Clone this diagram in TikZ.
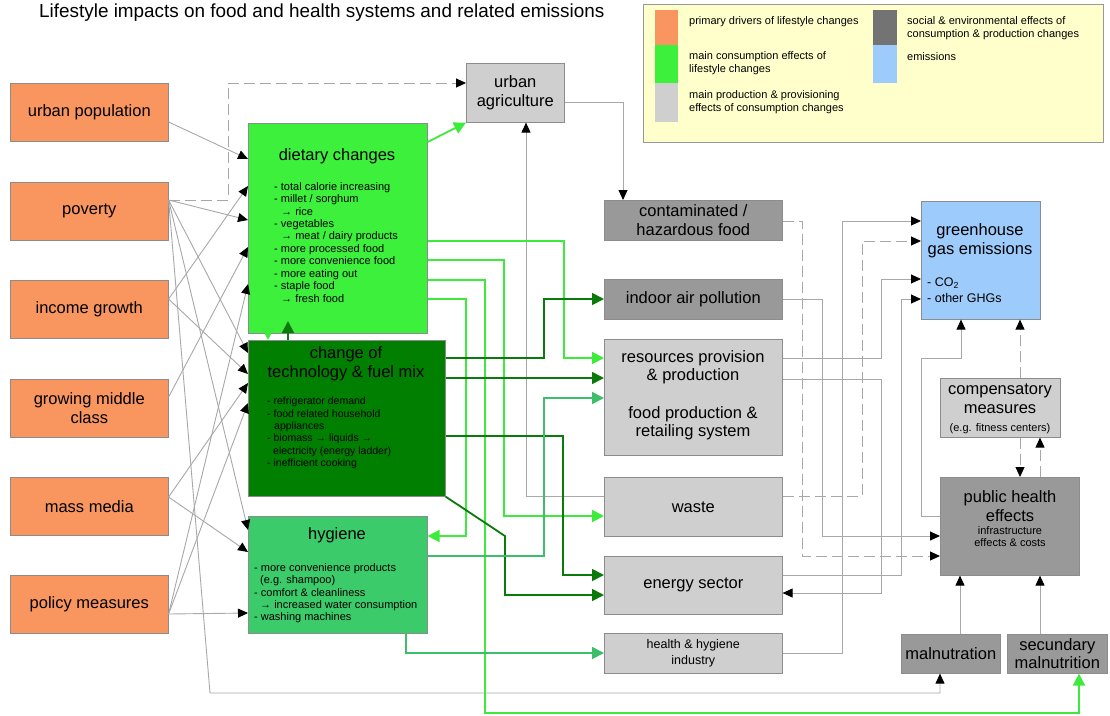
\documentclass[tikz,border=0pt]{standalone}
\usepackage{fontspec}
\setmainfont{Liberation Sans}
\usetikzlibrary{arrows.meta}

\definecolor{cDrv}{HTML}{F99660}
\definecolor{cDiet}{HTML}{3CF03C}
\definecolor{cTech}{HTML}{007F00}
\definecolor{cHyg}{HTML}{3CCB6A}
\definecolor{cLight}{HTML}{CFCFCF}
\definecolor{cDark}{HTML}{999999}
\definecolor{cGhg}{HTML}{9DCBFB}
\definecolor{cLeg}{HTML}{FFFFCC}
\definecolor{lnGray}{HTML}{A8A8A8}
\definecolor{lnBright}{HTML}{3CEB3C}
\definecolor{lnDark}{HTML}{0A7A0A}
\definecolor{lnMid}{HTML}{3CBE6A}

\newcommand\ttlfont{\fontsize{18.9}{21}\selectfont}
\newcommand\lblfont{\fontsize{16.5}{18.5}\selectfont}
\newcommand\lstfont{\fontsize{11}{12.45}\selectfont}
\newcommand\techlstfont{\fontsize{10.5}{12.3}\selectfont}
\newcommand\midfont{\fontsize{12.5}{16}\selectfont}
\newcommand\smfont{\fontsize{11}{12}\selectfont}
\newcommand\legfont{\fontsize{11}{13}\selectfont}

\tikzset{
  box/.style={draw=black!45, line width=0.6pt, inner sep=0pt, anchor=north west, align=center, font=\lblfont},
  txt/.style={inner sep=0pt, align=center},
  lst/.style={inner sep=0pt, align=left, anchor=north west, font=\lstfont},
  swatch/.style={inner sep=0pt, anchor=north west, minimum width=23pt},
  legtxt/.style={inner sep=0pt, align=left, anchor=west, font=\legfont},
  gconn/.style={draw=lnGray, line width=0.9pt, -{Triangle[length=10pt,width=9pt,black]}},
  dconn/.style={gconn, dash pattern=on 11pt off 5pt},
  brightconn/.style={draw=lnBright, line width=1.8pt, -{Triangle[length=12pt,width=12pt,lnBright]}},
  darkconn/.style={draw=lnDark, line width=1.8pt, -{Triangle[length=12pt,width=12pt,lnDark]}},
  midconn/.style={draw=lnMid, line width=1.8pt, -{Triangle[length=12pt,width=12pt,lnMid]}},
}

\begin{document}
\begin{tikzpicture}[x=1pt,y=-1pt]
\fill[white] (0,0) rectangle (1110,715);
\useasboundingbox (0,0) rectangle (1110,715);

% title
\node[anchor=west, inner sep=0pt, font=\ttlfont] (title) at (39,13)
  {Lifestyle impacts on food and health systems and related emissions};

% legend
\node[draw=black!40, line width=0.6pt, fill=cLeg, anchor=north west, minimum width=460pt, minimum height=138pt, inner sep=0pt] (legend) at (643,4) {};
\node[swatch, fill=cDrv,   minimum height=35pt] (swA) at (655,10) {};
\node[swatch, fill=cDiet,  minimum height=38pt] (swB) at (655,45) {};
\node[swatch, fill=cLight, minimum height=39pt] (swC) at (655,83) {};
\node[swatch, fill=black!55, minimum height=35pt, minimum width=24pt] (swD) at (873,10) {};
\node[swatch, fill=cGhg,   minimum height=38pt, minimum width=24pt] (swE) at (873,45) {};
\node[legtxt] (lgA) at (689,22) {primary drivers of lifestyle changes};
\node[legtxt] (lgB) at (689,63.5) {main consumption effects of\\lifestyle changes};
\node[legtxt] (lgC) at (689,102.5) {main production \& provisioning\\effects of consumption changes};
\node[legtxt] (lgD) at (907,28) {social \& environmental effects of\\consumption \& production changes};
\node[legtxt] (lgE) at (907,57) {emissions};

% primary drivers
\node[box, fill=cDrv, minimum width=158pt, minimum height=58pt] (urb)  at (10,83)  {urban population};
\node[box, fill=cDrv, minimum width=158pt, minimum height=58pt] (pov)  at (10,182) {poverty};
\node[box, fill=cDrv, minimum width=158pt, minimum height=58pt] (inc)  at (10,280) {income growth};
\node[box, fill=cDrv, minimum width=158pt, minimum height=58pt] (mid)  at (10,379) {growing middle\\class};
\node[box, fill=cDrv, minimum width=158pt, minimum height=58pt] (mass) at (10,477) {mass media};
\node[box, fill=cDrv, minimum width=158pt, minimum height=58pt] (pol)  at (10,575) {policy measures};

% consumption effects
\node[box, fill=cDiet, minimum width=179pt, minimum height=210pt] (diet) at (248,123) {};
\node[txt, font=\lblfont] (dietT) at (337,156) {dietary changes};
\node[lst] (dietL) at (274,182) {- total calorie increasing\\- millet / sorghum\\\hspace*{7pt}→ rice\\- vegetables\\\hspace*{7pt}→ meat / dairy products\\- more processed food\\- more convenience food\\- more eating out\\- staple food\\\hspace*{7pt}→ fresh food};

\node[box, fill=cTech, minimum width=197pt, minimum height=156pt] (tech) at (248,340) {};
\node[txt, font=\lblfont] (techT) at (346,363.5) {change of\\technology \& fuel mix};
\node[lst, font=\techlstfont, text=black] (techL) at (267,397) {- refrigerator demand\\- food related household\\\hspace*{7pt}appliances\\- biomass → liquids →\\\hspace*{6pt}electricity (energy ladder)\\- inefficient cooking};

\node[box, fill=cHyg, minimum width=179pt, minimum height=117pt] (hyg) at (248,516) {};
\node[txt, font=\lblfont] (hygT) at (337,535) {hygiene};
\node[lst] (hygL) at (254,563) {- more convenience products\\\hspace*{6pt}(e.g. shampoo)\\- comfort \& cleanliness\\\hspace*{6pt}→ increased water consumption\\- washing machines};

% production and provisioning
\node[box, fill=cLight, minimum width=98pt, minimum height=59pt] (ua) at (466,63) {urban\\agriculture};
\node[box, fill=cDark, minimum width=178pt, minimum height=40pt] (cont) at (604,200) {contaminated /\\hazardous food};
\node[box, fill=cDark, minimum width=178pt, minimum height=40pt] (ind) at (604,279) {indoor air pollution};
\node[box, fill=cLight, minimum width=178pt, minimum height=116pt] (res) at (604,339) {};
\node[txt, font=\lblfont] (resA) at (693,367) {resources provision\\\& production};
\node[txt, font=\lblfont] (resB) at (693,423) {food production \&\\retailing system};
\node[box, fill=cLight, minimum width=178pt, minimum height=59pt] (waste) at (604,477) {waste};
\node[box, fill=cLight, minimum width=178pt, minimum height=58pt] (en) at (604,556) {energy sector};
\node[box, fill=cLight, minimum width=178pt, minimum height=40pt, font=\midfont] (hh) at (604,633) {health \& hygiene\\industry};

% emissions and health
\node[box, fill=cGhg, minimum width=119pt, minimum height=118pt] (ghg) at (921,201) {};
\node[txt, font=\lblfont] (ghgT) at (980,240.5) {greenhouse\\gas emissions};
\node[txt, font=\midfont, align=left, anchor=west] (ghgL) at (927,290) {- CO\textsubscript{2}\\- other GHGs};

\node[box, fill=cLight, minimum width=120pt, minimum height=59pt] (comp) at (940,378) {};
\node[txt, font=\lblfont] (compT) at (1000,398.5) {compensatory\\measures};
\node[txt, font=\smfont] (compS) at (1000,429) {(e.g. fitness centers)};

\node[box, fill=cDark, minimum width=139pt, minimum height=98pt] (ph) at (940,477) {};
\node[txt, font=\lblfont] (phT) at (1010,506) {public health\\effects};
\node[txt, font=\smfont] (phS) at (1010,537) {infrastructure\\effects \& costs};

\node[box, fill=cDark, minimum width=99pt, minimum height=39pt] (maln) at (901,634) {malnutration};
\node[box, fill=cDark, minimum width=100pt, minimum height=39pt] (sec) at (1007,634) {secundary\\malnutrition};

% drivers -> consumption effects
\draw[gconn] (urb.east |- 0,122) -- (diet.west |- 0,159);
\draw[gconn] (pov.east |- 0,200) -- (diet.west |- 0,220);
\draw[gconn] (pov.east |- 0,200) -- (tech.west |- 0,353);
\draw[gconn] (pov.east |- 0,200) -- (hyg.west |- 0,530);
\draw[gconn] (pov.east |- 0,200) -- (210,693) -- (940,693) -- (maln.south -| 940,0);
\draw[dconn] (pov.east |- 0,200) -- (228,200) -- (228,83) -- (ua.west |- 0,83);
\draw[gconn] (inc.east |- 0,299) -- (diet.west |- 0,186);
\draw[gconn] (inc.east |- 0,299) -- (tech.west |- 0,374);
\draw[gconn] (mid.east |- 0,397) -- (diet.west |- 0,247);
\draw[gconn] (mass.east |- 0,497) -- (tech.west |- 0,383);
\draw[gconn] (mass.east |- 0,497) -- (hyg.west |- 0,552);
\draw[gconn] (pol.east |- 0,614) -- (diet.west |- 0,284);
\draw[gconn] (pol.east |- 0,614) -- (tech.west |- 0,403);
\draw[gconn] (pol.east |- 0,614) -- (hyg.west |- 0,613);

% gray connectors on the production side
\draw[gconn] (ua.east |- 0,102) -- (623,102) -- (cont.north -| 623,0);
\draw[gconn] (waste.west |- 0,496) -- (526,496) -- (ua.south -| 526,0);
\draw[dconn] (cont.east |- 0,221) -- (802,221) -- (802,556) -- (ph.west |- 0,556);
\draw[gconn] (ind.east |- 0,299) -- (822,299) -- (822,536) -- (ph.west |- 0,536);
\draw[gconn] (res.east |- 0,358) -- (881,358) -- (881,279) -- (ghg.west |- 0,279);
\draw[gconn] (res.east |- 0,379) -- (881,379) -- (881,593) -- (en.east |- 0,593);
\draw[dconn] (waste.east |- 0,496) -- (862,496) -- (862,241) -- (ghg.west |- 0,241);
\draw[gconn] (en.east |- 0,575) -- (901,575) -- (901,299) -- (ghg.west |- 0,299);
\draw[gconn] (hh.east |- 0,653) -- (842,653) -- (842,221) -- (ghg.west |- 0,221);
\draw[gconn] (ph.west |- 0,516) -- (921,516) -- (921,358) -- (961,358) -- (ghg.south -| 961,0);
\draw[dconn] (comp.north -| 1020,0) -- (ghg.south -| 1020,0);
\draw[dconn] (comp.south -| 1020,0) -- (ph.north -| 1020,0);
\draw[dconn] (ph.north -| 1040,0) -- (comp.south -| 1040,0);
\draw[gconn] (maln.north -| 960,0) -- (ph.south -| 960,0);
\draw[gconn] (sec.north -| 1040,0) -- (ph.south -| 1040,0);

% dietary changes
\draw[brightconn] (diet.east |- 0,142) -- (ua.south west);
\draw[brightconn] (diet.east |- 0,241) -- (564,241) -- (564,358) -- (res.west |- 0,358);
\draw[brightconn] (diet.east |- 0,260) -- (504,260) -- (504,516) -- (waste.west |- 0,516);
\draw[brightconn] (diet.east |- 0,280) -- (485,280) -- (485,713) -- (1079,713) -- (sec.south -| 1079,0);
\draw[brightconn] (diet.east |- 0,299) -- (466,299) -- (466,536) -- (hyg.east |- 0,536);
\draw[brightconn] (diet.south -| 268,0) -- (tech.north -| 268,0);

% technology and fuel mix
\draw[darkconn] (tech.north -| 288,0) -- (288,321);
\draw[darkconn] (tech.east |- 0,358) -- (544,358) -- (544,299) -- (ind.west |- 0,299);
\draw[darkconn] (tech.east |- 0,378) -- (res.west |- 0,378);
\draw[darkconn] (tech.east |- 0,436) -- (563,436) -- (563,575) -- (en.west |- 0,575);
\draw[darkconn] (tech.south east) -- (505,536) -- (505,595) -- (en.west |- 0,595);

% hygiene
\draw[midconn] (hyg.east |- 0,556) -- (544,556) -- (544,398) -- (res.west |- 0,398);
\draw[midconn] (hyg.south -| 406,0) -- (406,653) -- (hh.west |- 0,653);

\end{tikzpicture}
\end{document}
